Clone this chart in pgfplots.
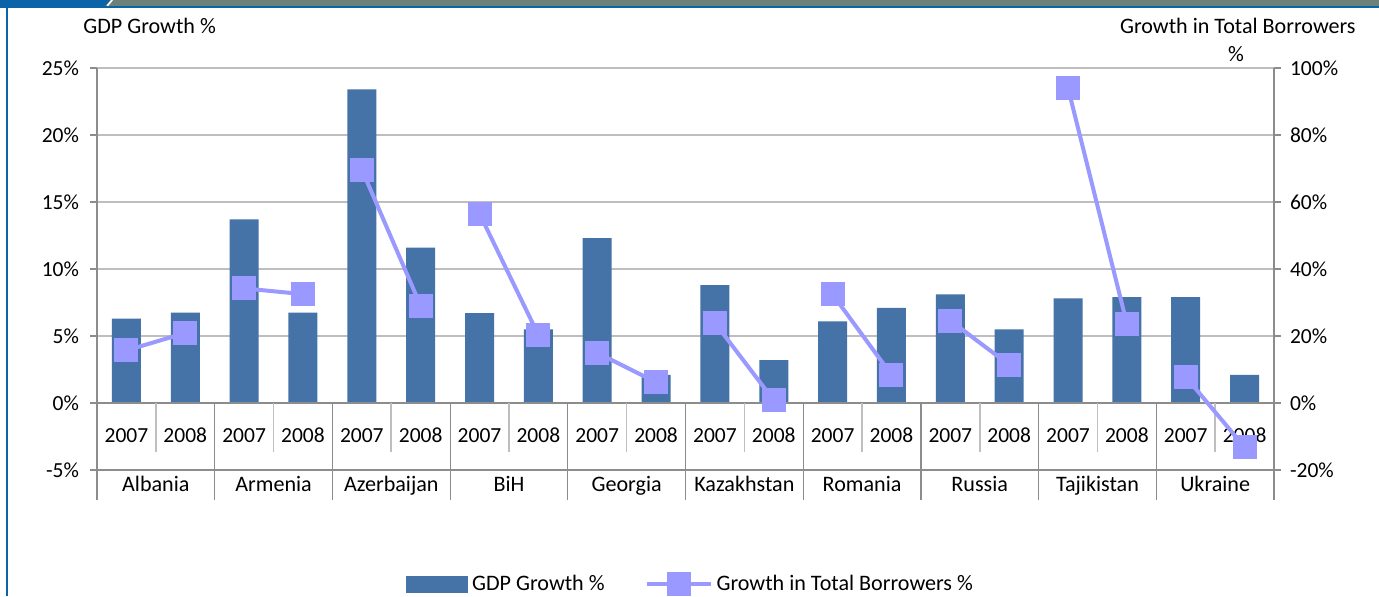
\documentclass[border=0pt]{standalone}
\usepackage{fontspec}
\setmainfont{Carlito}
\usepackage{pgfplots}
\pgfplotsset{compat=1.18}
\definecolor{barblue}{HTML}{4572A7}
\definecolor{linecol}{HTML}{9999FF}
\definecolor{gridgray}{HTML}{BEBEBE}
\definecolor{axgray}{HTML}{8C8C8C}
\definecolor{bannergray}{HTML}{6C8177}
\definecolor{bannerblue}{HTML}{0B64A8}
\newcommand\lbl{\fontsize{10.75}{12.9}\selectfont}
\newcommand\ttl{\fontsize{11.05}{13.3}\selectfont}
\pgfplotsset{
  barleg/.style={legend image code/.code={\fill[barblue] (0pt,-4pt) rectangle (30.5pt,4pt);}},
  lineleg/.style={legend image code/.code={\draw[linecol, line width=2pt] (0pt,0pt) -- (32pt,0pt); \fill[linecol] (11pt,-5pt) rectangle (21pt,5pt);}},
}
\begin{document}
\begin{tikzpicture}[font=\lbl]
\path[use as bounding box] (0,0) rectangle (689.5pt,298pt);
\fill[white] (0,0) rectangle (689.5pt,298pt);
% banner and frame
\fill[bannergray] (0,295pt) rectangle (689.5pt,298pt);
\fill[bannerblue] (0,295pt) -- (52.5pt,295pt) -- (55pt,298pt) -- (0,298pt) -- cycle;
\draw[white, line width=0.8pt] (53.6pt,295pt) -- (56.1pt,298pt);
\fill[bannerblue] (0,294pt) rectangle (689.5pt,294.8pt);
\fill[bannerblue] (3pt,0) rectangle (4pt,294.8pt);
% axis titles
\node[anchor=base west, inner sep=0pt, font=\ttl] at (41.5pt,281.3pt) {GDP Growth \%};
\node[anchor=base east, inner sep=0pt, font=\ttl] at (678pt,281.3pt) {Growth in Total Borrowers};
\node[anchor=base, inner sep=0pt, font=\ttl] at (618pt,267pt) {\%};

\begin{axis}[
  at={(48.5pt,63pt)}, anchor=south west,
  width=588.5pt, height=201pt, scale only axis,
  xmin=-0.5, xmax=19.5, ymin=-5, ymax=25,
  axis x line=none, axis y line*=left,
  y axis line style={draw=none},
  ytick={-5,0,5,10,15,20,25},
  yticklabels={-5\%,0\%,5\%,10\%,15\%,20\%,25\%},
  tick align=outside, major tick length=3.5pt,
  tick style={axgray, line width=0.6pt},
  ymajorgrids, grid style={gridgray, line width=0.8pt},
  yticklabel style={font=\lbl, xshift=-2pt},
  clip=false,
]
\addplot[ybar, bar width=14.5pt, bar shift=0pt, fill=barblue, draw=none] coordinates {
  (0,6.3) (1,6.75) (2,13.7) (3,6.75) (4,23.4) (5,11.6) (6,6.7) (7,5.5)
  (8,12.3) (9,2.1) (10,8.8) (11,3.2) (12,6.1) (13,7.1) (14,8.1) (15,5.5)
  (16,7.8) (17,7.9) (18,7.9) (19,2.1)};
% category axis frame
\draw[axgray, line width=0.8pt] (axis cs:-0.5,0) -- (axis cs:19.5,0);
\draw[axgray, line width=0.8pt] (axis cs:-0.5,-5) -- (axis cs:19.5,-5);
\draw[axgray, line width=0.8pt] (axis cs:-0.5,25) -- (axis cs:-0.5,-7.22);
\draw[axgray, line width=0.8pt] (axis cs:19.5,25) -- (axis cs:19.5,-7.22);
\pgfplotsinvokeforeach{0.5,2.5,4.5,6.5,8.5,10.5,12.5,14.5,16.5,18.5}{
  \draw[gridgray, line width=0.8pt] (axis cs:#1,0) -- (axis cs:#1,-3.63);
}
\pgfplotsinvokeforeach{1.5,3.5,5.5,7.5,9.5,11.5,13.5,15.5,17.5}{
  \draw[axgray, line width=0.6pt] (axis cs:#1,0) -- (axis cs:#1,-7.22);
}
\pgfplotsinvokeforeach{0,2,4,6,8,10,12,14,16,18}{
  \node[anchor=base] at (axis cs:#1,-2.96) {2007};
}
\pgfplotsinvokeforeach{1,3,5,7,9,11,13,15,17,19}{
  \node[anchor=base] at (axis cs:#1,-2.96) {2008};
}
\node[anchor=base, font=\ttl] at (axis cs:0.5,-6.62) {Albania};
\node[anchor=base, font=\ttl] at (axis cs:2.5,-6.62) {Armenia};
\node[anchor=base, font=\ttl] at (axis cs:4.5,-6.62) {Azerbaijan};
\node[anchor=base, font=\ttl] at (axis cs:6.5,-6.62) {BiH};
\node[anchor=base, font=\ttl] at (axis cs:8.5,-6.62) {Georgia};
\node[anchor=base, font=\ttl] at (axis cs:10.5,-6.62) {Kazakhstan};
\node[anchor=base, font=\ttl] at (axis cs:12.5,-6.62) {Romania};
\node[anchor=base, font=\ttl] at (axis cs:14.5,-6.62) {Russia};
\node[anchor=base, font=\ttl] at (axis cs:16.5,-6.62) {Tajikistan};
\node[anchor=base, font=\ttl] at (axis cs:18.5,-6.62) {Ukraine};
\end{axis}

\begin{axis}[
  at={(48.5pt,63pt)}, anchor=south west,
  width=588.5pt, height=201pt, scale only axis,
  xmin=-0.5, xmax=19.5, ymin=-20, ymax=100,
  axis x line=none, axis y line*=right,
  y axis line style={draw=none},
  ytick={-20,0,20,40,60,80,100},
  yticklabels={-20\%,0\%,20\%,40\%,60\%,80\%,100\%},
  tick align=outside, major tick length=3.5pt,
  tick style={axgray, line width=0.6pt},
  yticklabel style={font=\lbl, xshift=1pt},
  clip=false, unbounded coords=jump,
  legend style={draw=none, fill=none, at={(0.2625,-0.2836)}, anchor=west,
    font=\ttl, inner sep=0pt, legend columns=2,
    /tikz/every even column/.append style={column sep=18pt},
    nodes={inner sep=2pt}},
]
\addlegendimage{barleg}
\addlegendentry{GDP Growth \%}
\addplot[color=linecol, line width=2pt, mark=square*, mark size=5pt,
  mark options={solid, fill=linecol, draw=none}, lineleg]
  coordinates {
  (0,15.7) (1,20.9) (1.5,nan)
  (2,34.2) (3,32.5) (3.5,nan)
  (4,69.7) (5,29.0) (5.5,nan)
  (6,56.5) (7,20.3) (7.5,nan)
  (8,15.0) (9,6.2) (9.5,nan)
  (10,23.9) (11,0.8) (11.5,nan)
  (12,32.4) (13,8.4) (13.5,nan)
  (14,24.6) (15,11.4) (15.5,nan)
  (16,94.0) (17,23.7) (17.5,nan)
  (18,7.8) (19,-13.2)};
\addlegendentry{Growth in Total Borrowers \%}
\end{axis}
\end{tikzpicture}
\end{document}
